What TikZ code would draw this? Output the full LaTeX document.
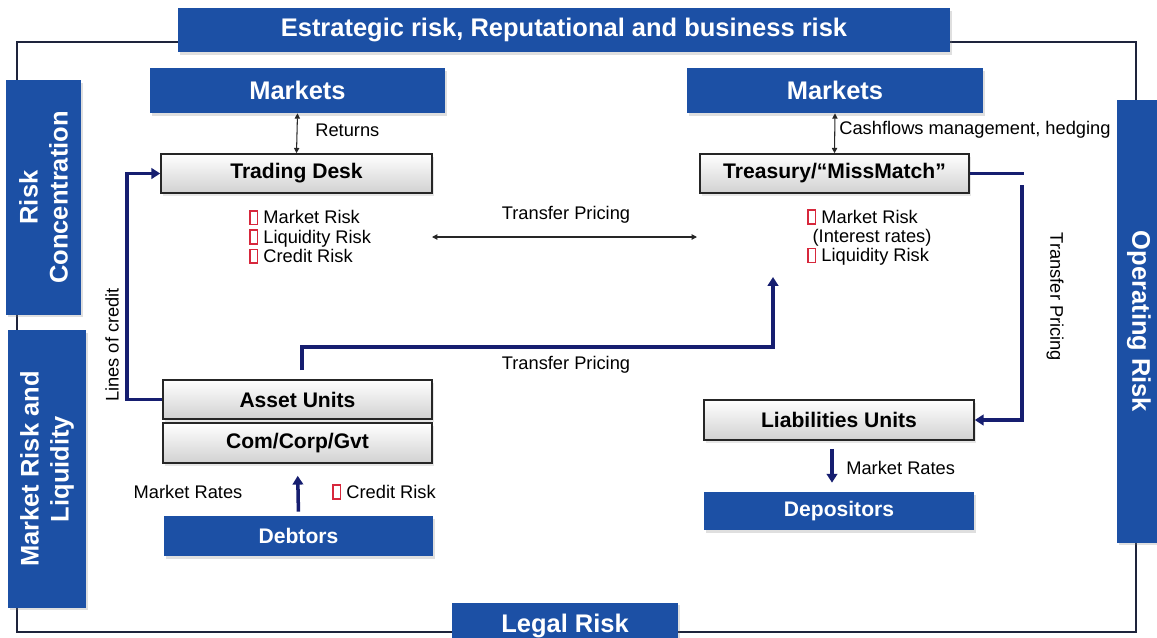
\documentclass[tikz,border=0pt]{standalone}
\usepackage{fontspec}
\setmainfont{Liberation Sans}
\usetikzlibrary{arrows.meta,positioning,shadows}
\definecolor{riskblue}{RGB}{28,80,165}
\definecolor{linknavy}{RGB}{22,30,112}
\definecolor{framegray}{RGB}{30,36,60}
\definecolor{boxred}{RGB}{215,40,60}
\newcommand{\rbox}{{\color{boxred}\setlength{\fboxsep}{0pt}\setlength{\fboxrule}{0.8pt}\fbox{\rule{0pt}{7pt}\hspace{3.4pt}}}\hspace{3pt}}
\tikzset{
  bluebox/.style={fill=riskblue, text=white, font=\fontsize{14.5}{17}\selectfont\bfseries, inner sep=0pt,
    drop shadow={opacity=0.25, shadow xshift=0.04cm, shadow yshift=-0.05cm}},
  unitbox/.style={draw=black!85, line width=0.9pt, top color=white, bottom color=black!18,
    font=\fontsize{12}{14}\selectfont\bfseries, minimum width=5.4cm, minimum height=0.78cm, inner sep=0pt,
    drop shadow={opacity=0.2, shadow xshift=0.04cm, shadow yshift=-0.05cm}},
  link/.style={draw=linknavy, line width=2pt, -{Triangle[length=5pt, width=6pt]}},
  thinlink/.style={draw=black!85, line width=0.6pt, {Triangle[length=3pt, width=3pt]}-{Triangle[length=3pt, width=3pt]}},
  lbl/.style={font=\fontsize{10.4}{11}\selectfont, inner sep=0pt}
}
\begin{document}
\begin{tikzpicture}[x=0.02cm, y=-0.02cm]
\useasboundingbox (0,0) rectangle (1157,637);
% frame round the whole bank
\draw[framegray, line width=0.8pt] (178,42) -- (17,42) -- (17,632) -- (1136,632) -- (1136,42) -- (950,42);

% risk banners
\node[bluebox, minimum width=15.44cm, minimum height=0.88cm] (strat) at (564,30) {Estrategic risk, Reputational and business risk};
\node[bluebox, minimum width=4.7cm, minimum height=1.5cm, rotate=90, align=center] (conc) at (43.5,197.5) {Risk\\Concentration};
\node[bluebox, minimum width=5.56cm, minimum height=1.56cm, rotate=90, align=center] (mktliq) at (47,469) {Market Risk and\\Liquidity};
\node[bluebox, minimum width=8.86cm, minimum height=0.9cm, rotate=-90] (oper) at (1139,321.5) {Operating Risk};
\node[bluebox, minimum width=4.52cm, minimum height=0.94cm] (legal) at (565,626) {Legal Risk};

% markets and counterparties
\node[bluebox, minimum width=5.9cm, minimum height=0.9cm] (mktL) at (297.5,90.5) {Markets};
\node[bluebox, minimum width=5.92cm, minimum height=0.9cm] (mktR) at (835,90.5) {Markets};
\node[bluebox, font=\fontsize{12}{14}\selectfont\bfseries, minimum width=5.38cm, minimum height=0.8cm] (debt) at (298.5,536) {Debtors};
\node[bluebox, font=\fontsize{12}{14}\selectfont\bfseries, minimum width=5.4cm, minimum height=0.76cm] (dep) at (839,511) {Depositors};

% units
\node[unitbox, minimum width=5.42cm] (td) at (296.5,173.5) {Trading Desk};
\node[unitbox, minimum width=5.38cm] (tr) at (834.5,173.5) {Treasury/“MissMatch”};
\node[unitbox, minimum width=5.38cm] (au) at (297.5,399.5) {Asset Units};
\node[unitbox, minimum width=5.38cm, minimum height=0.8cm] (ccg) at (297.5,443) {Com/Corp/Gvt};
\node[unitbox, minimum width=5.4cm, minimum height=0.8cm] (lu) at (839,420) {Liabilities Units};

% risk lists
\node[lbl, anchor=west, align=left] (tdrisk) at (249,237) {\rbox Market Risk\\\rbox Liquidity Risk\\\rbox Credit Risk};
\node[lbl, anchor=west, align=left] (trrisk) at (807,237.5) {\rbox Market Risk\\\hspace{3pt}(Interest rates)\\\rbox Liquidity Risk};

% market flows
\draw[thinlink] (td.north) -- (mktL.south);
\node[lbl, anchor=west] (ret) at (315,130) {Returns};
\draw[thinlink] (tr.north) -- (mktR.south);
\node[lbl, anchor=west] (cash) at (839,130) {Cashflows management, hedging};

% transfer pricing between desks
\coordinate (tpw) at (432,237);
\coordinate (tpe) at (697,237);
\draw[thinlink] (tpw) -- (tpe);
\node[lbl] (tplab) at (566,215) {Transfer Pricing};

% lines of credit
\draw[link] (au.west) -- ++(-35,0) |- (td.west);
\node[lbl, rotate=90] (loc) at (112,345) {Lines of credit};

% assets to treasury
\coordinate (tpbend) at (302,347);
\coordinate (tptip) at (773,277);
\draw[link, shorten <=0.18cm] (au.north -| tpbend) -- (tpbend) -| (tptip);
\node[lbl] (tplab2) at (566,365) {Transfer Pricing};

% treasury to liabilities
\coordinate (trout) at (1024,173.5);
\coordinate (trdown) at (1022,185);
\draw[link, -] (tr.east) -- (trout);
\draw[link] (trdown) |- (lu.east);
\node[lbl, rotate=-90] (tplab3) at (1055,297) {Transfer Pricing};

% market rates
\draw[link, shorten <=0.16cm, shorten >=0.18cm] ([xshift=-0.14cm]lu.south) -- ([xshift=-0.14cm]dep.north);
\node[lbl, anchor=west] (mrR) at (846,468) {Market Rates};
\draw[link, shorten <=0.08cm, shorten >=0.24cm] (debt.north) -- (ccg.south);
\node[lbl] (mrL) at (188,492) {Market Rates};
\node[lbl, anchor=west] (crl) at (332,492) {\rbox Credit Risk};
\end{tikzpicture}
\end{document}
